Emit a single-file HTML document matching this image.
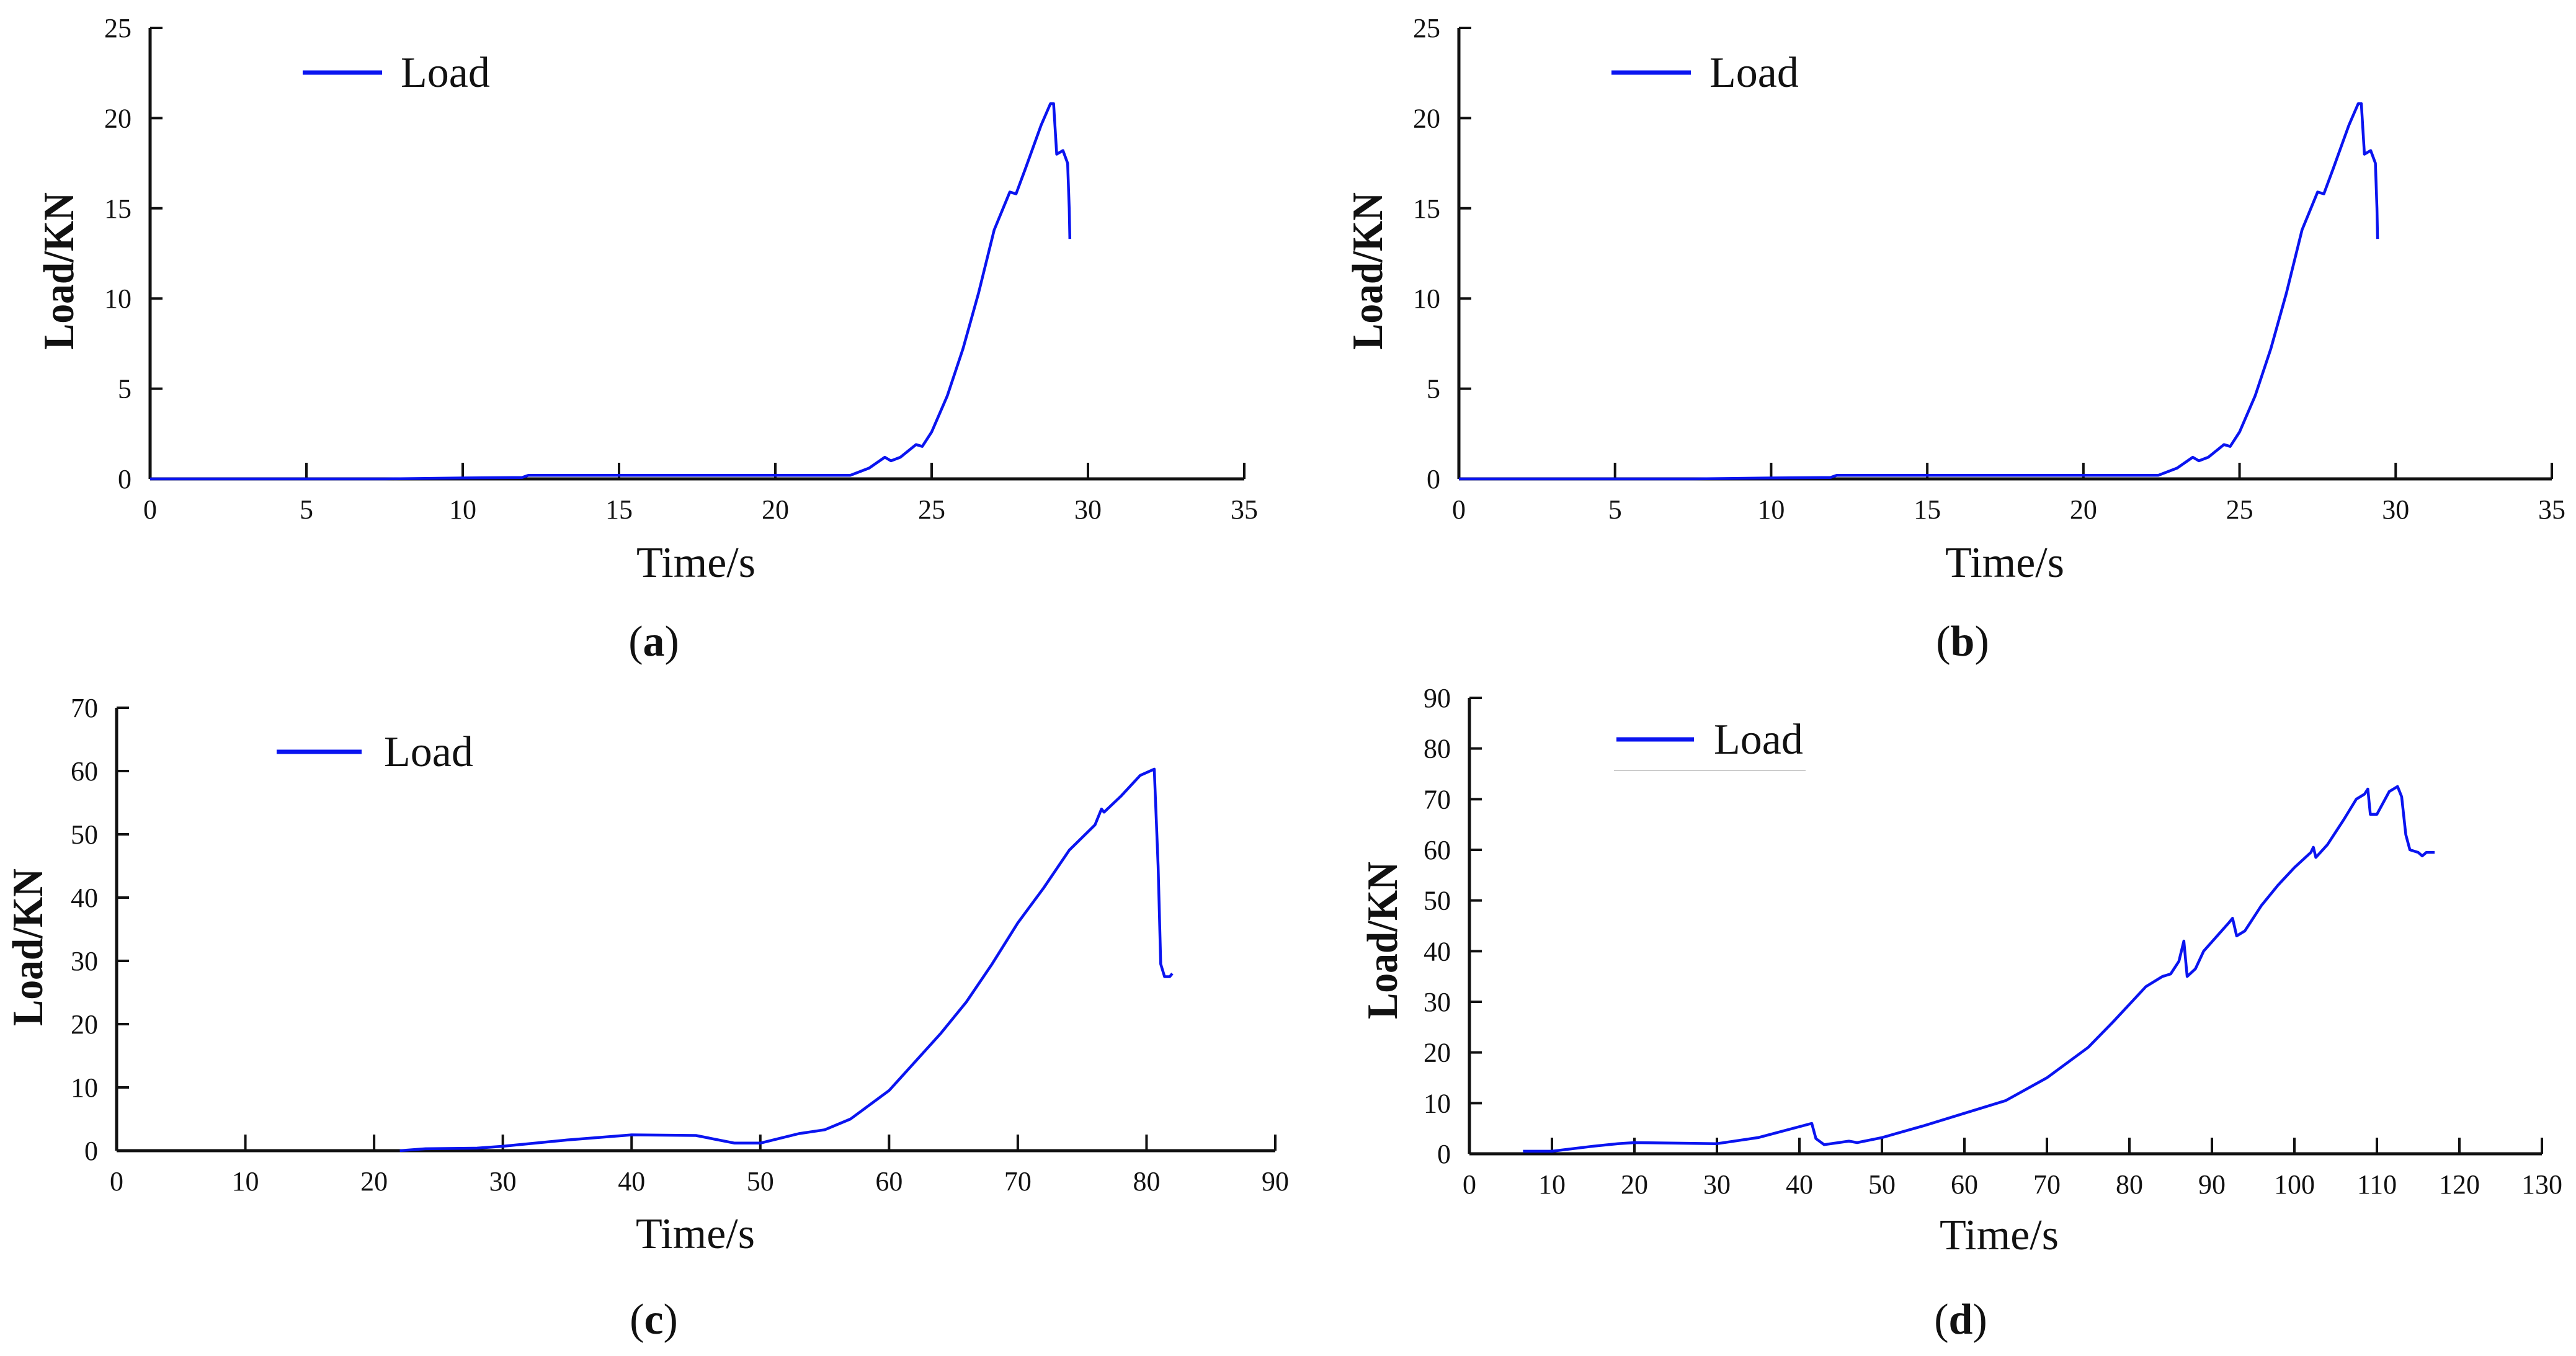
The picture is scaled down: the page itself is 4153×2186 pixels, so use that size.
<!DOCTYPE html>
<html><head><meta charset="utf-8"><style>
html,body{margin:0;padding:0;background:#fff;}
svg{display:block;}
text{font-family:"Liberation Serif",serif;fill:#111;}
</style></head><body>
<svg id="fig" width="4153" height="2186" viewBox="0 0 4153 2186" xmlns="http://www.w3.org/2000/svg"></svg>
<script>
// Panel (a) and (b) data
const timeA = [0,7.5,10,11.9,12.1,22.4,23,23.5,23.7,24,24.5,24.7,25,25.5,26,26.5,27,27.5,27.7,28,28.5,28.8,28.9,29.0,29.2,29.35,29.4,29.42];
const loadA = [0,0,0.05,0.08,0.2,0.2,0.6,1.2,1.0,1.2,1.9,1.8,2.6,4.6,7.2,10.3,13.8,15.9,15.8,17.2,19.6,20.8,20.8,18.0,18.2,17.5,15,13.3];
const timeB = timeA.slice();
const loadB = loadA.slice();
// Panel (c) data
const timeC = [22,24,28,30,35,40,45,48,50,53,55,57,60,62,64,66,68,70,72,74,76,76.5,76.7,78,79.5,80.6,80.9,81.1,81.4,81.8,82];
const loadC = [0,0.3,0.4,0.7,1.7,2.5,2.4,1.2,1.2,2.7,3.3,5,9.5,14,18.5,23.5,29.5,36,41.5,47.5,51.5,54,53.5,56,59.3,60.3,45,29.5,27.5,27.5,28];
// Panel (d) data
const timeD = [6.5,10,15,18,20,30,35,41.5,42,43,46,47,50,55,60,65,70,75,78,80,82,84,85,86,86.6,87,88,89,92,92.5,93,94,96,98,100,102,102.3,102.6,104,106,107.5,108.5,108.9,109.2,110,111.5,112.5,113,113.5,114,115,115.5,116,117];
const loadD = [0.5,0.5,1.5,2,2.2,2,3.2,6,3,1.8,2.5,2.2,3.2,5.5,8,10.5,15,21,26,29.5,33,35,35.5,38,42,35,36.5,40,45.5,46.5,43,44,49,53,56.5,59.5,60.5,58.5,61,66,70,71,72,67,67,71.5,72.5,70.5,63,60,59.5,58.8,59.5,59.5];
const ticksA = [0,5,10,15,20,25,30,35], yticksA = [0,5,10,15,20,25];
const ticksC = [0,10,20,30,40,50,60,70,80,90], yticksC = [0,10,20,30,40,50,60,70];
const ticksD = [0,10,20,30,40,50,60,70,80,90,100,110,120,130], yticksD = [0,10,20,30,40,50,60,70,80,90];

const NS="http://www.w3.org/2000/svg";
const svg=document.getElementById('fig');
function mk(tag,attrs,parent,text){const e=document.createElementNS(NS,tag);for(const k in attrs)e.setAttribute(k,attrs[k]);if(text!==undefined)e.textContent=text;(parent||svg).appendChild(e);return e;}

function panel(id,cfg,xs,ys,xt,yt){
  const g=mk('g',{});
  
  
  const sx=v=>cfg.x0+(v-xt[0])/(xt[xt.length-1]-xt[0])*(cfg.x1-cfg.x0);
  const sy=v=>cfg.y0-(v-yt[0])/(yt[yt.length-1]-yt[0])*(cfg.y0-cfg.y1);
  const ax=mk('g',{},g);
  
  
  mk('line',{x1:cfg.x0,y1:cfg.y0,x2:cfg.x1,y2:cfg.y0,stroke:'#111','stroke-width':5},ax);
  mk('line',{x1:cfg.x0,y1:cfg.y0,x2:cfg.x0,y2:cfg.y1,stroke:'#111','stroke-width':5},ax);
  xt.forEach(v=>{
    const x=sx(v);
    if(v!==xt[0]) mk('line',{x1:x,y1:cfg.y0,x2:x,y2:cfg.y0-26,stroke:'#111','stroke-width':4},ax);
    const t=mk('text',{x:x,y:cfg.y0+64,'font-size':44,'text-anchor':'middle'},ax,String(v));
    
    
  });
  yt.forEach(v=>{
    const y=sy(v);
    if(v!==yt[0]) mk('line',{x1:cfg.x0,y1:y,x2:cfg.x0+20,y2:y,stroke:'#111','stroke-width':4},ax);
    const t=mk('text',{x:cfg.x0-30,y:y+15,'font-size':44,'text-anchor':'end'},ax,String(v));
    
    
  });
  const xl=mk('text',{x:cfg.xlx,y:cfg.xly,'font-size':70,'text-anchor':'middle'},g,'Time/s');
  
  
  const yl=mk('text',{x:0,y:0,'font-size':70,'font-weight':'bold','text-anchor':'middle',textLength:254,lengthAdjust:'spacingAndGlyphs',transform:`translate(${cfg.ylx},${cfg.yly}) rotate(-90)`},g,'Load/KN');
  
  
  const cap=mk('text',{x:cfg.cx,y:cfg.cy,'font-size':70,'text-anchor':'middle'},g);
  
  
  mk('tspan',{},cap,'(');mk('tspan',{'font-weight':'bold'},cap,cfg.letter);mk('tspan',{},cap,')');
  const lg=mk('g',{},g);
  
  
  mk('line',{x1:cfg.lx0,y1:cfg.ly,x2:cfg.lx1,y2:cfg.ly,stroke:'#0a14f0','stroke-width':7},lg);
  mk('text',{x:cfg.ltx,y:cfg.ly+23,'font-size':70},lg,'Load');
  if(cfg.uline) mk('line',{x1:cfg.lx0-4,y1:cfg.ly+50,x2:cfg.ltx+148,y2:cfg.ly+50,stroke:'#ccc','stroke-width':2},lg);
  const d=xs.map((v,i)=>(i?'L':'M')+sx(v).toFixed(1)+','+sy(ys[i]).toFixed(1)).join(' ');
  const p=mk('path',{d:d,fill:'none',stroke:'#0a14f0','stroke-width':4.5,'stroke-linejoin':'round'},g);
  
  
}
panel('panel-a',{x0:242,x1:2006,y0:772,y1:45,xlx:1122,xly:930,ylx:118,yly:437,cx:1054,cy:1057,letter:'a',lx0:488,lx1:616,ly:117,ltx:646},timeA,loadA,ticksA,yticksA);
panel('panel-b',{x0:2352,x1:4114,y0:772,y1:45,xlx:3232,xly:930,ylx:2228,yly:437,cx:3164,cy:1057,letter:'b',lx0:2598,lx1:2726,ly:117,ltx:2756},timeB,loadB,ticksA,yticksA);
panel('panel-c',{x0:188,x1:2056,y0:1855,y1:1141,xlx:1121,xly:2012,ylx:68,yly:1527,cx:1054,cy:2150,letter:'c',lx0:446,lx1:583,ly:1212,ltx:619},timeC,loadC,ticksC,yticksC);
panel('panel-d',{x0:2369,x1:4098,y0:1860,y1:1125,xlx:3223,xly:2014,ylx:2252,yly:1516,cx:3161,cy:2150,letter:'d',lx0:2606,lx1:2731,ly:1192,ltx:2763,uline:true},timeD,loadD,ticksD,yticksD);
</script>
</body></html>
